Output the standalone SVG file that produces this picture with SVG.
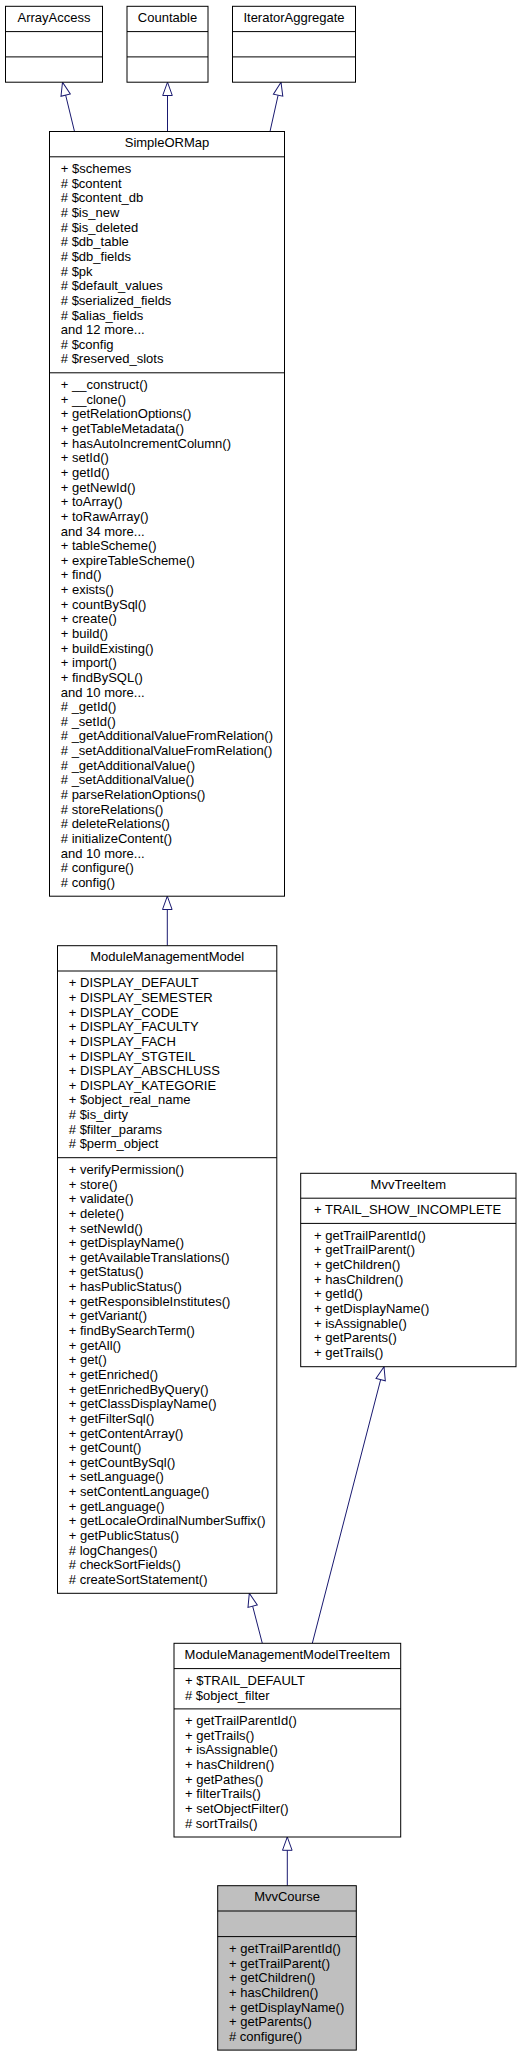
<svg xmlns="http://www.w3.org/2000/svg" width="521" height="2056" viewBox="0 0 521 2056">
<style>
.t{font-family:"Liberation Sans",Arial,sans-serif;font-size:13px;fill:#000}
.c{text-anchor:middle}
.box{fill:#fff;stroke:#000;stroke-width:1}
.gray{fill:#bfbfbf}
.sep{stroke:#000;stroke-width:1}
.e{fill:none;stroke:#191970;stroke-width:1}
</style>
<defs>
<marker id="inh" markerUnits="userSpaceOnUse" markerWidth="20" markerHeight="20" refX="0" refY="0" orient="auto" overflow="visible">
<path d="M0,0 L-13.3,-4.8 L-13.3,4.8 Z" fill="#fff" stroke="#191970" stroke-width="1"/>
</marker>
</defs>
<rect width="521" height="2056" fill="#fff"/>

<g id="connectors">
<path class="e" d="M74.5,131.5 L62.5,82.2" marker-end="url(#inh)"/>
<path class="e" d="M167.5,131.5 L167.5,82.2" marker-end="url(#inh)"/>
<path class="e" d="M270,131.5 L281,82.2" marker-end="url(#inh)"/>
<path class="e" d="M167.3,945.7 L167.3,896.2" marker-end="url(#inh)"/>
<path class="e" d="M262.3,1643.3 L249.3,1593.3" marker-end="url(#inh)"/>
<path class="e" d="M312.3,1643.3 L384,1366.7" marker-end="url(#inh)"/>
<path class="e" d="M287.3,1885.7 L287.3,1837" marker-end="url(#inh)"/>
</g>

<g id="ArrayAccess">
<rect class="box" x="5.5" y="6.3" width="97" height="75.9"/>
<line class="sep" x1="5.5" y1="31.6" x2="102.5" y2="31.6"/>
<line class="sep" x1="5.5" y1="56.9" x2="102.5" y2="56.9"/>
<text class="t c" x="54" y="21.8">ArrayAccess</text>
</g>

<g id="Countable">
<rect class="box" x="127" y="6.3" width="81" height="75.9"/>
<line class="sep" x1="127" y1="31.6" x2="208" y2="31.6"/>
<line class="sep" x1="127" y1="56.9" x2="208" y2="56.9"/>
<text class="t c" x="167.5" y="21.8">Countable</text>
</g>

<g id="IteratorAggregate">
<rect class="box" x="232.5" y="6.3" width="123" height="75.9"/>
<line class="sep" x1="232.5" y1="31.6" x2="355.5" y2="31.6"/>
<line class="sep" x1="232.5" y1="56.9" x2="355.5" y2="56.9"/>
<text class="t c" x="294" y="21.8">IteratorAggregate</text>
</g>

<g id="SimpleORMap">
<rect class="box" x="49.5" y="131.5" width="235" height="764.7"/>
<line class="sep" x1="49.5" y1="156.8" x2="284.5" y2="156.8"/>
<line class="sep" x1="49.5" y1="372.8" x2="284.5" y2="372.8"/>
<text class="t c" x="167" y="147">SimpleORMap</text>
<text class="t" x="60.8" y="173.1"><tspan x="60.8">+ $schemes</tspan><tspan x="60.8" dy="14.64"># $content</tspan><tspan x="60.8" dy="14.64"># $content_db</tspan><tspan x="60.8" dy="14.64"># $is_new</tspan><tspan x="60.8" dy="14.64"># $is_deleted</tspan><tspan x="60.8" dy="14.64"># $db_table</tspan><tspan x="60.8" dy="14.64"># $db_fields</tspan><tspan x="60.8" dy="14.64"># $pk</tspan><tspan x="60.8" dy="14.64"># $default_values</tspan><tspan x="60.8" dy="14.64"># $serialized_fields</tspan><tspan x="60.8" dy="14.64"># $alias_fields</tspan><tspan x="60.8" dy="14.64">and 12 more...</tspan><tspan x="60.8" dy="14.64"># $config</tspan><tspan x="60.8" dy="14.64"># $reserved_slots</tspan></text>
<text class="t" x="60.8" y="389.1"><tspan x="60.8">+ __construct()</tspan><tspan x="60.8" dy="14.64">+ __clone()</tspan><tspan x="60.8" dy="14.64">+ getRelationOptions()</tspan><tspan x="60.8" dy="14.64">+ getTableMetadata()</tspan><tspan x="60.8" dy="14.64">+ hasAutoIncrementColumn()</tspan><tspan x="60.8" dy="14.64">+ setId()</tspan><tspan x="60.8" dy="14.64">+ getId()</tspan><tspan x="60.8" dy="14.64">+ getNewId()</tspan><tspan x="60.8" dy="14.64">+ toArray()</tspan><tspan x="60.8" dy="14.64">+ toRawArray()</tspan><tspan x="60.8" dy="14.64">and 34 more...</tspan><tspan x="60.8" dy="14.64">+ tableScheme()</tspan><tspan x="60.8" dy="14.64">+ expireTableScheme()</tspan><tspan x="60.8" dy="14.64">+ find()</tspan><tspan x="60.8" dy="14.64">+ exists()</tspan><tspan x="60.8" dy="14.64">+ countBySql()</tspan><tspan x="60.8" dy="14.64">+ create()</tspan><tspan x="60.8" dy="14.64">+ build()</tspan><tspan x="60.8" dy="14.64">+ buildExisting()</tspan><tspan x="60.8" dy="14.64">+ import()</tspan><tspan x="60.8" dy="14.64">+ findBySQL()</tspan><tspan x="60.8" dy="14.64">and 10 more...</tspan><tspan x="60.8" dy="14.64"># _getId()</tspan><tspan x="60.8" dy="14.64"># _setId()</tspan><tspan x="60.8" dy="14.64"># _getAdditionalValueFromRelation()</tspan><tspan x="60.8" dy="14.64"># _setAdditionalValueFromRelation()</tspan><tspan x="60.8" dy="14.64"># _getAdditionalValue()</tspan><tspan x="60.8" dy="14.64"># _setAdditionalValue()</tspan><tspan x="60.8" dy="14.64"># parseRelationOptions()</tspan><tspan x="60.8" dy="14.64"># storeRelations()</tspan><tspan x="60.8" dy="14.64"># deleteRelations()</tspan><tspan x="60.8" dy="14.64"># initializeContent()</tspan><tspan x="60.8" dy="14.64">and 10 more...</tspan><tspan x="60.8" dy="14.64"># configure()</tspan><tspan x="60.8" dy="14.64"># config()</tspan></text>
</g>

<g id="ModuleManagementModel">
<rect class="box" x="57.5" y="945.7" width="219.3" height="647.6"/>
<line class="sep" x1="57.5" y1="971" x2="276.8" y2="971"/>
<line class="sep" x1="57.5" y1="1157.7" x2="276.8" y2="1157.7"/>
<text class="t c" x="167.2" y="961.2">ModuleManagementModel</text>
<text class="t" x="68.8" y="987.3"><tspan x="68.8">+ DISPLAY_DEFAULT</tspan><tspan x="68.8" dy="14.64">+ DISPLAY_SEMESTER</tspan><tspan x="68.8" dy="14.64">+ DISPLAY_CODE</tspan><tspan x="68.8" dy="14.64">+ DISPLAY_FACULTY</tspan><tspan x="68.8" dy="14.64">+ DISPLAY_FACH</tspan><tspan x="68.8" dy="14.64">+ DISPLAY_STGTEIL</tspan><tspan x="68.8" dy="14.64">+ DISPLAY_ABSCHLUSS</tspan><tspan x="68.8" dy="14.64">+ DISPLAY_KATEGORIE</tspan><tspan x="68.8" dy="14.64">+ $object_real_name</tspan><tspan x="68.8" dy="14.64"># $is_dirty</tspan><tspan x="68.8" dy="14.64"># $filter_params</tspan><tspan x="68.8" dy="14.64"># $perm_object</tspan></text>
<text class="t" x="68.8" y="1174"><tspan x="68.8">+ verifyPermission()</tspan><tspan x="68.8" dy="14.64">+ store()</tspan><tspan x="68.8" dy="14.64">+ validate()</tspan><tspan x="68.8" dy="14.64">+ delete()</tspan><tspan x="68.8" dy="14.64">+ setNewId()</tspan><tspan x="68.8" dy="14.64">+ getDisplayName()</tspan><tspan x="68.8" dy="14.64">+ getAvailableTranslations()</tspan><tspan x="68.8" dy="14.64">+ getStatus()</tspan><tspan x="68.8" dy="14.64">+ hasPublicStatus()</tspan><tspan x="68.8" dy="14.64">+ getResponsibleInstitutes()</tspan><tspan x="68.8" dy="14.64">+ getVariant()</tspan><tspan x="68.8" dy="14.64">+ findBySearchTerm()</tspan><tspan x="68.8" dy="14.64">+ getAll()</tspan><tspan x="68.8" dy="14.64">+ get()</tspan><tspan x="68.8" dy="14.64">+ getEnriched()</tspan><tspan x="68.8" dy="14.64">+ getEnrichedByQuery()</tspan><tspan x="68.8" dy="14.64">+ getClassDisplayName()</tspan><tspan x="68.8" dy="14.64">+ getFilterSql()</tspan><tspan x="68.8" dy="14.64">+ getContentArray()</tspan><tspan x="68.8" dy="14.64">+ getCount()</tspan><tspan x="68.8" dy="14.64">+ getCountBySql()</tspan><tspan x="68.8" dy="14.64">+ setLanguage()</tspan><tspan x="68.8" dy="14.64">+ setContentLanguage()</tspan><tspan x="68.8" dy="14.64">+ getLanguage()</tspan><tspan x="68.8" dy="14.64">+ getLocaleOrdinalNumberSuffix()</tspan><tspan x="68.8" dy="14.64">+ getPublicStatus()</tspan><tspan x="68.8" dy="14.64"># logChanges()</tspan><tspan x="68.8" dy="14.64"># checkSortFields()</tspan><tspan x="68.8" dy="14.64"># createSortStatement()</tspan></text>
</g>

<g id="MvvTreeItem">
<rect class="box" x="300.7" y="1173.3" width="215.3" height="193.4"/>
<line class="sep" x1="300.7" y1="1198.2" x2="516" y2="1198.2"/>
<line class="sep" x1="300.7" y1="1223.4" x2="516" y2="1223.4"/>
<text class="t c" x="408.3" y="1188.8">MvvTreeItem</text>
<text class="t" x="314" y="1214.3">+ TRAIL_SHOW_INCOMPLETE</text>
<text class="t" x="314" y="1239.7"><tspan x="314">+ getTrailParentId()</tspan><tspan x="314" dy="14.64">+ getTrailParent()</tspan><tspan x="314" dy="14.64">+ getChildren()</tspan><tspan x="314" dy="14.64">+ hasChildren()</tspan><tspan x="314" dy="14.64">+ getId()</tspan><tspan x="314" dy="14.64">+ getDisplayName()</tspan><tspan x="314" dy="14.64">+ isAssignable()</tspan><tspan x="314" dy="14.64">+ getParents()</tspan><tspan x="314" dy="14.64">+ getTrails()</tspan></text>
</g>

<g id="ModuleManagementModelTreeItem">
<rect class="box" x="174" y="1643.3" width="226.7" height="193.7"/>
<line class="sep" x1="174" y1="1668.6" x2="400.7" y2="1668.6"/>
<line class="sep" x1="174" y1="1708.9" x2="400.7" y2="1708.9"/>
<text class="t c" x="287.3" y="1658.8">ModuleManagementModelTreeItem</text>
<text class="t" x="185" y="1684.9"><tspan x="185">+ $TRAIL_DEFAULT</tspan><tspan x="185" dy="14.64"># $object_filter</tspan></text>
<text class="t" x="185" y="1725.2"><tspan x="185">+ getTrailParentId()</tspan><tspan x="185" dy="14.64">+ getTrails()</tspan><tspan x="185" dy="14.64">+ isAssignable()</tspan><tspan x="185" dy="14.64">+ hasChildren()</tspan><tspan x="185" dy="14.64">+ getPathes()</tspan><tspan x="185" dy="14.64">+ filterTrails()</tspan><tspan x="185" dy="14.64">+ setObjectFilter()</tspan><tspan x="185" dy="14.64"># sortTrails()</tspan></text>
</g>

<g id="MvvCourse">
<rect class="box gray" x="217.7" y="1885.7" width="138.6" height="164.4"/>
<line class="sep" x1="217.7" y1="1911" x2="356.3" y2="1911"/>
<line class="sep" x1="217.7" y1="1936.6" x2="356.3" y2="1936.6"/>
<text class="t c" x="287" y="1901.4">MvvCourse</text>
<text class="t" x="229" y="1953"><tspan x="229">+ getTrailParentId()</tspan><tspan x="229" dy="14.64">+ getTrailParent()</tspan><tspan x="229" dy="14.64">+ getChildren()</tspan><tspan x="229" dy="14.64">+ hasChildren()</tspan><tspan x="229" dy="14.64">+ getDisplayName()</tspan><tspan x="229" dy="14.64">+ getParents()</tspan><tspan x="229" dy="14.64"># configure()</tspan></text>
</g>
</svg>
